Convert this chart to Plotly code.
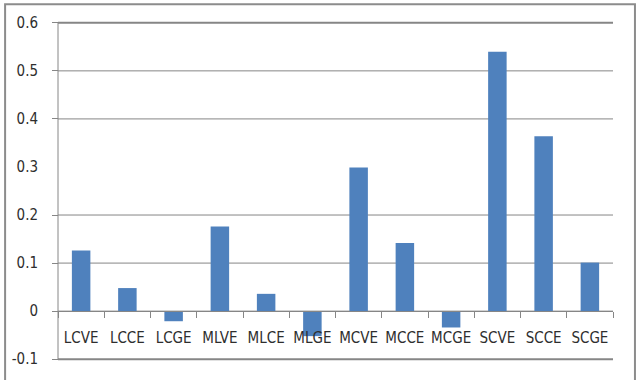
import plotly.graph_objects as go

# Data
categories = ["LCVE", "LCCE", "LCGE", "MLVE", "MLCE", "MLGE",
              "MCVE", "MCCE", "MCGE", "SCVE", "SCCE", "SCGE"]
values = [0.126, 0.048, -0.021, 0.176, 0.036, -0.052,
          0.299, 0.142, -0.034, 0.540, 0.364, 0.101]
y_ticks = [-0.1, 0, 0.1, 0.2, 0.3, 0.4, 0.5, 0.6]
y_tick_text = ["-0.1", "0", "0.1", "0.2", "0.3", "0.4", "0.5", "0.6"]
grid_ticks = [-0.1, 0, 0.1, 0.2, 0.4, 0.5, 0.6]

W, H = 640, 380
ML, MR, MT, MB = 57, 27, 18, 12
y_range = [-0.11, 0.61]
GRAY = "#868686"
TEXT = "#2e2e2e"
FONT = "DejaVu Sans Condensed, Liberation Sans Narrow, Liberation Sans, sans-serif"

fig = go.Figure()
# empty trace so the label axis gets its own subplot
fig.add_trace(go.Scatter(x=[], y=[], xaxis="x", yaxis="y", showlegend=False,
                         hoverinfo="skip"))
fig.add_trace(go.Bar(
    x=categories, y=values, xaxis="x", yaxis="y2",
    marker=dict(color="#4F81BD", line=dict(width=0)),
    showlegend=False,
))

# category axis sits on the zero line
zero_pos = (0 - y_range[0]) / (y_range[1] - y_range[0])

plot_w = W - ML - MR
plot_h = H - MT - MB


def px_to_paper_x(px):
    return (px - ML) / plot_w


def px_to_paper_y(py):
    return (H - MB - py) / plot_h


def val_to_paper_y(v):
    return (v - y_range[0]) / (y_range[1] - y_range[0])


ends = (min(grid_ticks), max(grid_ticks))
shapes = [
    # horizontal gridlines, behind the bars
    dict(type="line", xref="paper", yref="paper", x0=0, x1=1,
         y0=val_to_paper_y(g), y1=val_to_paper_y(g),
         line=dict(color=GRAY, width=2 if g in ends else 1), layer="below")
    for g in grid_ticks
]
shapes += [
    # vertical value-axis line spanning -0.1 .. 0.6
    dict(type="line", xref="paper", yref="paper",
         x0=0, x1=0, y0=val_to_paper_y(y_ticks[0]), y1=val_to_paper_y(y_ticks[-1]),
         line=dict(color=GRAY, width=1)),
    # outer chart border
    dict(type="rect", xref="paper", yref="paper",
         x0=px_to_paper_x(4), x1=px_to_paper_x(635),
         y0=px_to_paper_y(390), y1=px_to_paper_y(4),
         line=dict(color="#8c8c8c", width=2), fillcolor="rgba(0,0,0,0)",
         layer="above"),
]

fig.update_layout(
    width=W, height=H,
    margin=dict(l=ML, r=MR, t=MT, b=MB, pad=0),
    paper_bgcolor="white", plot_bgcolor="rgba(0,0,0,0)",
    bargap=0.6,
    font=dict(family=FONT, size=15, color=TEXT),
    xaxis=dict(
        anchor="free", position=zero_pos,
        type="category", categoryarray=categories, categoryorder="array",
        showgrid=False, zeroline=False,
        showline=True, linecolor=GRAY, linewidth=1,
        ticks="outside", ticklen=6, tickcolor=GRAY, tickwidth=1,
        tickson="boundaries", tickangle=0,
        tickfont=dict(family=FONT, size=15, color=TEXT),
        ticklabelstandoff=13,
        fixedrange=True,
    ),
    yaxis=dict(
        range=y_range, anchor="x",
        tickvals=y_ticks, ticktext=y_tick_text,
        showgrid=False, zeroline=False, showline=False,
        ticks="outside", ticklen=6, tickcolor="rgba(0,0,0,0)",
        ticklabelstandoff=10,
        tickfont=dict(family=FONT, size=15, color=TEXT),
    ),
    yaxis2=dict(
        range=y_range, overlaying="y", side="left", anchor="free", position=0,
        tickvals=grid_ticks, showticklabels=False,
        showgrid=False, zeroline=False, showline=False,
        ticks="outside", ticklen=6, tickcolor=GRAY, tickwidth=1,
    ),
    shapes=shapes,
)

fig.write_html("out.html")
